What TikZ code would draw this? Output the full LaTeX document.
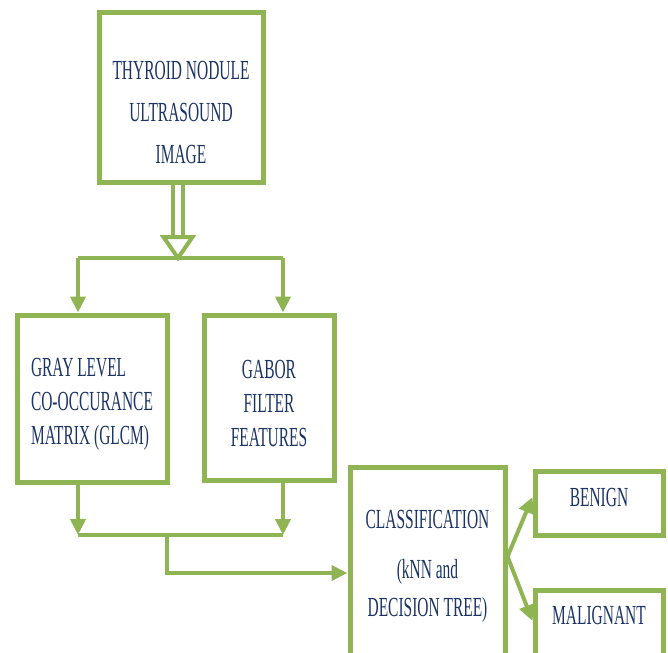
\documentclass[tikz,border=0pt]{standalone}
\usepackage{fontspec}
\setmainfont{Liberation Serif}[FakeStretch=0.56]
\usetikzlibrary{arrows.meta,positioning}
\definecolor{boxgreen}{HTML}{8FB454}
\definecolor{txtblue}{HTML}{1C3366}

\begin{document}
\begin{tikzpicture}[x=0.5pt,y=-0.5pt,>={Triangle[length=8pt,width=7.5pt]},
  box/.style={draw=boxgreen,line width=2.5pt,rectangle,inner sep=0pt},
  lbl/.style={text=txtblue,font=\fontsize{13.8}{15}\selectfont,align=center,inner sep=0pt},
  conn/.style={draw=boxgreen,line width=2pt}]
  \useasboundingbox (0,0) rectangle (668,652);
% boxes
  \node[box,minimum width=82pt,minimum height=85pt,
    label={[lbl,yshift=-7pt]center:THYROID NODULE\\[6pt]ULTRASOUND\\[6pt]IMAGE}] (img) at (181,98) {};
  \node[box,minimum width=75pt,minimum height=83.5pt,
    label={[lbl,align=left,yshift=-3pt]center:GRAY LEVEL\\[2pt]CO-OCCURANCE\\[2pt]MATRIX (GLCM)}] (glcm) at (92,398.5) {};
  \node[box,minimum width=65pt,minimum height=82.5pt,
    label={[lbl,yshift=-3pt]center:GABOR\\[2pt]FILTER\\[2pt]FEATURES}] (gabor) at (269,397.5) {};
  \node[box,minimum width=77.5pt,minimum height=101.5pt,
    label={[lbl,yshift=1pt]center:CLASSIFICATION\\[10pt](kNN and\\[4pt]DECISION TREE)}] (cls) at (427.5,568.5) {};
  \node[box,minimum width=64pt,minimum height=32pt,
    label={[lbl,yshift=3pt]center:BENIGN}] (benign) at (599,503) {};
  \node[box,minimum width=64pt,minimum height=35pt,
    label={[lbl,yshift=5pt]center:MALIGNANT}] (malig) at (599,625) {};
% hollow double arrow from the image
  \coordinate (split) at (178,258);
  \draw[draw=boxgreen,line width=2pt,double=white,double distance=3pt] (img.south -| split) -- ++(0,55);
  \draw[conn,fill=white,line join=miter] (split) -- ++(-14.5,-21) -- ++(29,0) -- cycle;
% split to the two feature boxes
  \coordinate (lt) at (78,258);
  \coordinate (rt) at (283,258);
  \draw[conn] (lt) -- (rt);
  \draw[conn,->] (lt) -- (lt |- glcm.north);
  \draw[conn,->] (rt) -- (rt |- gabor.north);
% join the features
  \coordinate (lb) at (78,535);
  \coordinate (rb) at (283,535);
  \coordinate (mid) at (167,573);
  \draw[conn,->] (lb |- glcm.south) -- (lb);
  \draw[conn,->] (rb |- gabor.south) -- (rb);
  \draw[conn] (lb) -- (rb);
  \draw[conn,->] (mid |- lb) -- (mid) -- (mid -| cls.west);
% decision
  \coordinate (fork) at ([yshift=6pt]cls.east);
  \draw[conn,->] (fork) -- ([yshift=3pt]benign.west);
  \draw[conn,->] (fork) -- ([yshift=2pt]malig.west);
\end{tikzpicture}
\end{document}
